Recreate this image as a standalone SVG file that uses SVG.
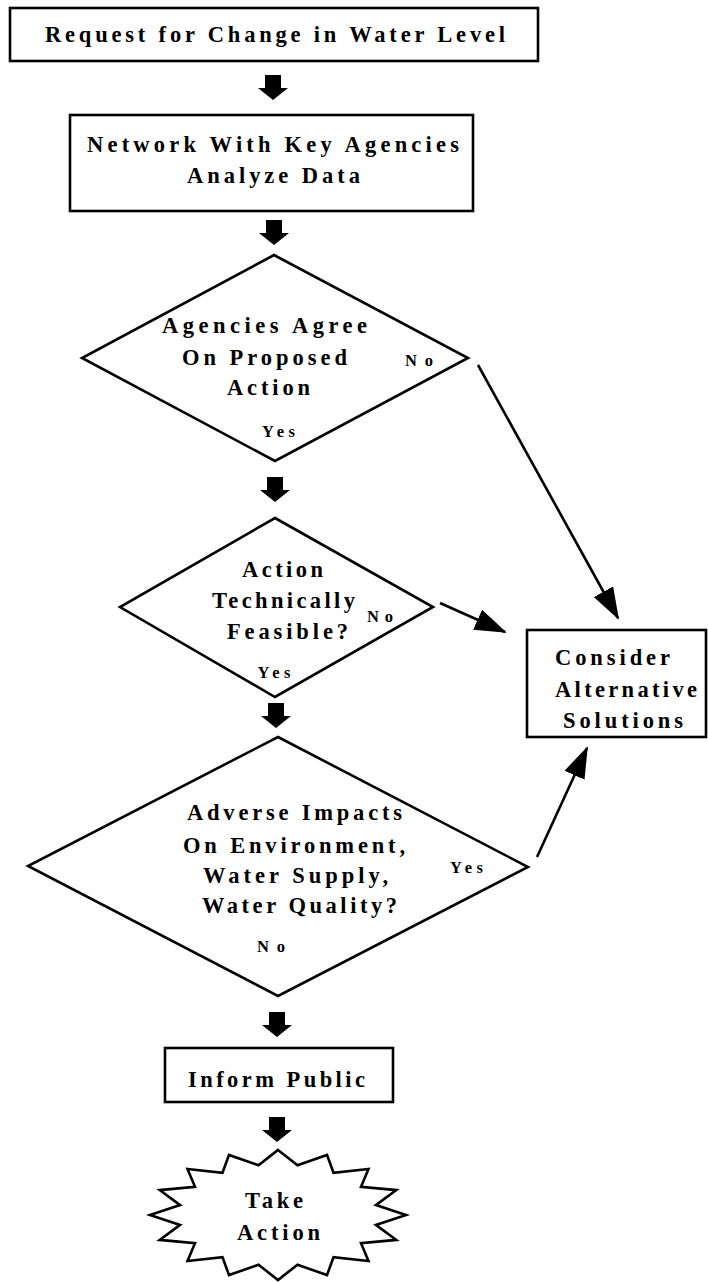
<svg xmlns="http://www.w3.org/2000/svg" width="708" height="1282" viewBox="0 0 708 1282">
<style>
.shape{fill:#fff;stroke:#000;stroke-width:2.6;stroke-linejoin:miter}
.t{font-family:"Liberation Serif","Times New Roman",serif;font-size:22.5px;font-weight:bold;fill:#000;text-anchor:middle}
.ts{text-anchor:start}
.lbl{font-family:"Liberation Serif","Times New Roman",serif;font-size:16.5px;font-weight:bold;fill:#000;text-anchor:middle}
.conn{fill:none;stroke:#000;stroke-width:2.6}
.blk{fill:#000}
</style>
<defs>
<path id="blockArrow" d="M-8,-25 H8 V-12 H15 L0,0 L-15,-12 H-8 Z"/>
<marker id="ah" viewBox="0 0 32 22" refX="30" refY="11" markerWidth="32" markerHeight="22" markerUnits="userSpaceOnUse" orient="auto">
<path d="M0,0 L32,11 L0,22 Z" fill="#000"/>
</marker>
</defs>
<rect width="708" height="1282" fill="#fff"/>

<g id="connectors">
<use href="#blockArrow" class="blk" x="273" y="100"/>
<use href="#blockArrow" class="blk" x="274" y="245"/>
<use href="#blockArrow" class="blk" x="275" y="502"/>
<use href="#blockArrow" class="blk" x="276" y="728"/>
<use href="#blockArrow" class="blk" x="277" y="1037"/>
<use href="#blockArrow" class="blk" x="277" y="1142"/>
<line class="conn" x1="478" y1="365" x2="618" y2="618" marker-end="url(#ah)"/>
<line class="conn" x1="440" y1="603" x2="505" y2="632" marker-end="url(#ah)"/>
<line class="conn" x1="537" y1="857" x2="587" y2="748" marker-end="url(#ah)"/>
</g>

<g id="request">
<rect class="shape" x="10" y="8" width="528" height="53"/>
<text class="t" x="275" y="42" textLength="460" lengthAdjust="spacing">Request for Change in Water Level</text>
</g>

<g id="network">
<rect class="shape" x="70" y="115" width="403" height="96"/>
<text class="t" x="273" y="152" textLength="372" lengthAdjust="spacing">Network With Key Agencies</text>
<text class="t" x="273.5" y="183" textLength="173" lengthAdjust="spacing">Analyze Data</text>
</g>

<g id="agree">
<polygon class="shape" points="274,255 468,358 275,461 82,358"/>
<text class="t" x="264.5" y="333" textLength="205" lengthAdjust="spacing">Agencies Agree</text>
<text class="t" x="264.5" y="365" textLength="165" lengthAdjust="spacing">On Proposed</text>
<text class="t" x="268.5" y="395" textLength="83" lengthAdjust="spacing">Action</text>
<text class="lbl" x="419" y="366" textLength="28" lengthAdjust="spacing">No</text>
<text class="lbl" x="278.5" y="437" textLength="33" lengthAdjust="spacing">Yes</text>
</g>

<g id="feasible">
<polygon class="shape" points="275,518 433,607 275,697 120,607"/>
<text class="t" x="282.5" y="577" textLength="81" lengthAdjust="spacing">Action</text>
<text class="t" x="283.5" y="608" textLength="143" lengthAdjust="spacing">Technically</text>
<text class="t" x="287.5" y="639" textLength="121" lengthAdjust="spacing">Feasible?</text>
<text class="lbl" x="380" y="622" textLength="26" lengthAdjust="spacing">No</text>
<text class="lbl" x="274" y="678" textLength="33" lengthAdjust="spacing">Yes</text>
</g>

<g id="impacts">
<polygon class="shape" points="278,737 528,867 278,996 28,866"/>
<text class="t" x="294.5" y="820" textLength="215" lengthAdjust="spacing">Adverse Impacts</text>
<text class="t" x="294" y="853" textLength="222" lengthAdjust="spacing">On Environment,</text>
<text class="t" x="295.5" y="883" textLength="185" lengthAdjust="spacing">Water Supply,</text>
<text class="t" x="299.5" y="913" textLength="195" lengthAdjust="spacing">Water Quality?</text>
<text class="lbl" x="466.5" y="873" textLength="33" lengthAdjust="spacing">Yes</text>
<text class="lbl" x="271" y="952" textLength="28" lengthAdjust="spacing">No</text>
</g>

<g id="alternatives">
<rect class="shape" x="527" y="630" width="179" height="107"/>
<text class="t ts" x="555" y="665" textLength="115" lengthAdjust="spacing">Consider</text>
<text class="t ts" x="555" y="697" textLength="142" lengthAdjust="spacing">Alternative</text>
<text class="t ts" x="563" y="728" textLength="120" lengthAdjust="spacing">Solutions</text>
</g>

<g id="inform">
<rect class="shape" x="165" y="1048" width="228" height="54"/>
<text class="t" x="276.5" y="1087" textLength="177" lengthAdjust="spacing">Inform Public</text>
</g>

<g id="take-action">
<polygon class="shape" points="278,1150 297.5,1165.3 327,1154.9 333.5,1172.8 368.5,1169 361,1186.8 396.3,1190.1 375.9,1205.1 406,1215 375.9,1224.9 396.3,1239.9 361,1243.2 368.5,1261 333.5,1257.2 327,1275.1 297.5,1264.7 278,1280 258.5,1264.7 229,1275.1 222.5,1257.2 187.5,1261 195,1243.2 159.7,1239.9 180.1,1224.9 150,1215 180.1,1205.1 159.7,1190.1 195,1186.8 187.5,1169 222.5,1172.8 229,1154.9 258.5,1165.3"/>
<text class="t" x="274" y="1208" textLength="58" lengthAdjust="spacing">Take</text>
<text class="t" x="278.5" y="1240" textLength="83" lengthAdjust="spacing">Action</text>
</g>
</svg>
